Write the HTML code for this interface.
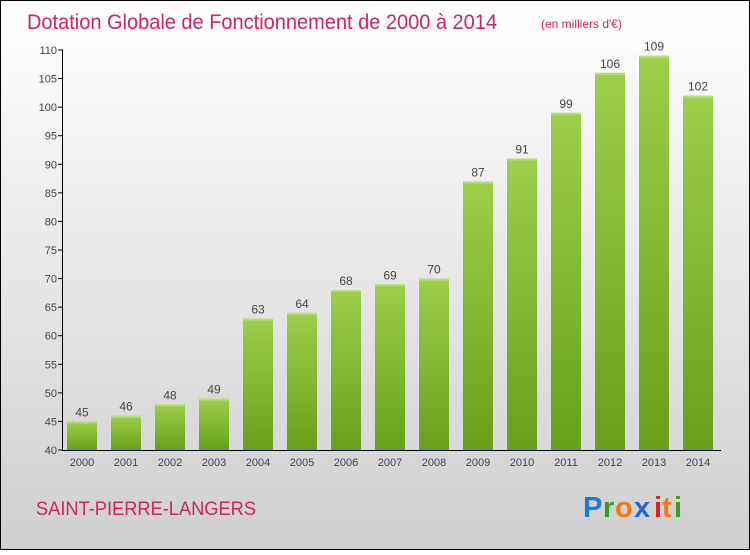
<!DOCTYPE html>
<html><head><meta charset="utf-8"><style>
html,body{margin:0;padding:0}
body{width:750px;height:550px;overflow:hidden;font-family:"Liberation Sans",sans-serif}
</style></head><body>
<svg id="chart" width="750" height="550" xmlns="http://www.w3.org/2000/svg">
<defs>
<linearGradient id="bg" x1="0" y1="0" x2="0" y2="1"><stop offset="0" stop-color="#ffffff"/><stop offset="1" stop-color="#cfcfcf"/></linearGradient>
<linearGradient id="bar" x1="0" y1="0" x2="0" y2="1"><stop offset="0" stop-color="#9ccf4a"/><stop offset="1" stop-color="#68a01a"/></linearGradient>
</defs>
<rect x="0.5" y="0.5" width="749" height="549" fill="url(#bg)" stroke="#000"/>
<text x="27" y="29" font-size="21" fill="#c8285a" textLength="470" lengthAdjust="spacingAndGlyphs">Dotation Globale de Fonctionnement de 2000 à 2014</text>
<text x="541" y="28" font-size="12" fill="#c8285a">(en milliers d'€)</text>
<g id="plot"></g>
<text x="36" y="515" font-size="19" fill="#c8285a" textLength="220" lengthAdjust="spacingAndGlyphs">SAINT-PIERRE-LANGERS</text>
<g font-size="29" font-weight="bold" font-family="Liberation Sans,sans-serif">
<text x="583" y="517" fill="#1a7ad6">P</text><text x="603" y="517" fill="#3a9a2a">r</text><text x="615" y="517" fill="#f07a10">o</text><text x="634" y="517" fill="#1a6ad0">x</text><text x="654" y="517" fill="#e02020">i</text><text x="662" y="517" fill="#f07a10">t</text><text x="674" y="517" fill="#3a9a2a">i</text>
</g>
</svg>
<script>
const years=["2000","2001","2002","2003","2004","2005","2006","2007","2008","2009","2010","2011","2012","2013","2014"];
const values=[45,46,48,49,63,64,68,69,70,87,91,99,106,109,102];
const yTicks=[40,45,50,55,60,65,70,75,80,85,90,95,100,105,110];
const NS="http://www.w3.org/2000/svg";
const g=document.getElementById('plot');
const yMin=40,yMax=110,yTop=50,yBot=450;
function y(v){return yBot-(v-yMin)/(yMax-yMin)*(yBot-yTop);}
function x(i){return 82+i*44;}
function mk(t,a){const e=document.createElementNS(NS,t);for(const k in a)e.setAttribute(k,a[k]);g.appendChild(e);return e;}
yTicks.forEach(t=>{
 const l=mk('line',{x1:58,x2:63,y1:y(t),y2:y(t),stroke:'#000'});
 
 
 const tx=mk('text',{x:57,y:y(t)+4,'text-anchor':'end','font-size':11,fill:'#444'});
 tx.textContent=t;
 
 
});
const ya=mk('line',{x1:62.5,x2:62.5,y1:yTop,y2:yBot,stroke:'#000'});


years.forEach((yr,i)=>{
 const v=values[i];
 const r=mk('rect',{x:x(i)-15,y:y(v),width:30,height:yBot-y(v),fill:'url(#bar)'});
 
 
 const tp=mk('rect',{x:x(i)-15,y:y(v),width:30,height:2,fill:'#b5e070'});
 
 
 const vl=mk('text',{x:x(i),y:y(v)-5,'text-anchor':'middle','font-size':12,fill:'#444'});
 vl.textContent=v;
 
 
 const xl=mk('text',{x:x(i),y:466,'text-anchor':'middle','font-size':11,fill:'#444'});
 xl.textContent=yr;
 
 
});
const xa=mk('line',{x1:62,x2:721,y1:450.5,y2:450.5,stroke:'#000'});


</script>
</body></html>
